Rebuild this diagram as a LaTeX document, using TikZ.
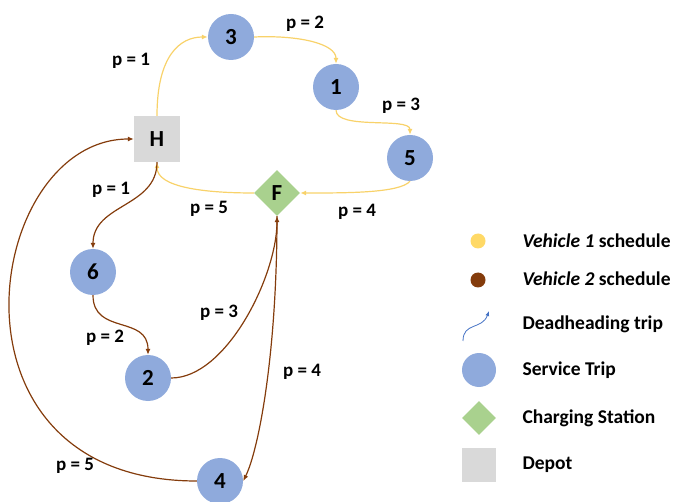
\documentclass[tikz,border=0pt]{standalone}
\usepackage{fontspec}
\setmainfont{Carlito}
\usetikzlibrary{arrows.meta,shapes.geometric}
\definecolor{yel}{HTML}{F8D26A}
\definecolor{yeldot}{HTML}{FFD966}
\definecolor{brn}{HTML}{843C0C}
\definecolor{svc}{HTML}{8FAADC}
\definecolor{chg}{HTML}{A9D18E}
\definecolor{dep}{HTML}{D9D9D9}
\definecolor{dh}{HTML}{4472C4}
\tikzset{
  trip/.style={circle,fill=svc,minimum size=46pt,inner sep=0pt,font=\fontsize{23}{23}\selectfont\bfseries},
  station/.style={diamond,fill=chg,minimum size=46pt,inner sep=0pt,font=\fontsize{23}{23}\selectfont\bfseries},
  depot/.style={rectangle,fill=dep,minimum size=46pt,inner sep=0pt,font=\fontsize{23}{23}\selectfont\bfseries},
  plab/.style={font=\fontsize{19}{19}\selectfont\bfseries},
  legtxt/.style={anchor=west,font=\fontsize{19.5}{19.5}\selectfont\bfseries},
  v1/.style={draw=yel,line width=1.2pt,-{Latex[length=6pt,width=5pt]}},
  v2/.style={draw=brn,line width=1.2pt,-{Latex[length=6pt,width=5pt]}},
}
\begin{document}
\begin{tikzpicture}[x=1pt,y=-1pt]
\useasboundingbox (0,0) rectangle (674,502);
% nodes
\node[trip] (n3) at (231,37) {3};
\node[trip] (n1) at (336,87) {1};
\node[trip] (n5) at (410,158) {5};
\node[depot] (H) at (157,139) {H};
\node[station] (F) at (277,193) {F};
\node[trip] (n6) at (93,272) {6};
\node[trip] (n2) at (148,378) {2};
\node[trip] (n4) at (220,481) {4};
% vehicle 1
\draw[v1] (H.north) .. controls +(0,-60) and +(-28,0) .. (n3.west);
\draw[v1] (n3.east) .. controls +(45,-2) and +(0,-20) .. (n1.north);
\draw[v1] (n1.south) .. controls +(0,20) and +(0,-18) .. (n5.north);
\draw[v1] (n5.south) .. controls +(-10,12) and +(45,0) .. (F.east);
\draw[v1] (F.west) .. controls +(-50,0) and +(0,25) .. (H.south);
% vehicle 2
\draw[v2] (H.south) .. controls +(0,45) and +(0,-45) .. (n6.north);
\draw[v2] (n6.south) .. controls +(0,40) and +(0,-40) .. (n2.north);
\draw[v2] (n2.east) .. controls +(55,0) and +(0,60) .. (F.south);
\draw[v2] (F.south) .. controls +(0,140) and +(15,-30) .. (n4.east);
\draw[v2] (n4.west) .. controls +(-265,0) and +(-150,0) .. (H.west);
% labels
\node[plab] at (131,61) {p = 1};
\node[plab] at (305,24) {p = 2};
\node[plab] at (401,106) {p = 3};
\node[plab] at (357,212) {p = 4};
\node[plab] at (209,209) {p = 5};
\node[plab] at (111,190) {p = 1};
\node[plab] at (105,338) {p = 2};
\node[plab] at (219,313) {p = 3};
\node[plab] at (302,372) {p = 4};
\node[plab] at (75,466) {p = 5};
% legend
\node[circle,fill=yeldot,minimum size=15pt,inner sep=0pt] (l1) at (478,241) {};
\node[circle,fill=brn,minimum size=15pt,inner sep=0pt] (l2) at (478,280) {};
\coordinate (d0) at (463,341);
\coordinate (d1) at (489,311);
\draw[dh,line width=0.8pt,-{Latex[length=5pt,width=4pt]}] (d0) .. controls (463,322) and (482,330) .. (d1);
\node[circle,fill=svc,minimum size=34pt,inner sep=0pt] (l3) at (479,370) {};
\node[diamond,fill=chg,minimum size=34pt,inner sep=0pt] (l4) at (479,418) {};
\node[rectangle,fill=dep,minimum size=34pt,inner sep=0pt] (l5) at (479,465) {};
\node[legtxt] (t1) at (519,241) {\textit{Vehicle 1} schedule};
\node[legtxt] (t2) at (519,279) {\textit{Vehicle 2} schedule};
\node[legtxt] (t3) at (519,324) {Deadheading trip};
\node[legtxt] (t4) at (519,370) {Service Trip};
\node[legtxt] (t5) at (519,418) {Charging Station};
\node[legtxt] (t6) at (519,465) {Depot};
\end{tikzpicture}
\end{document}
